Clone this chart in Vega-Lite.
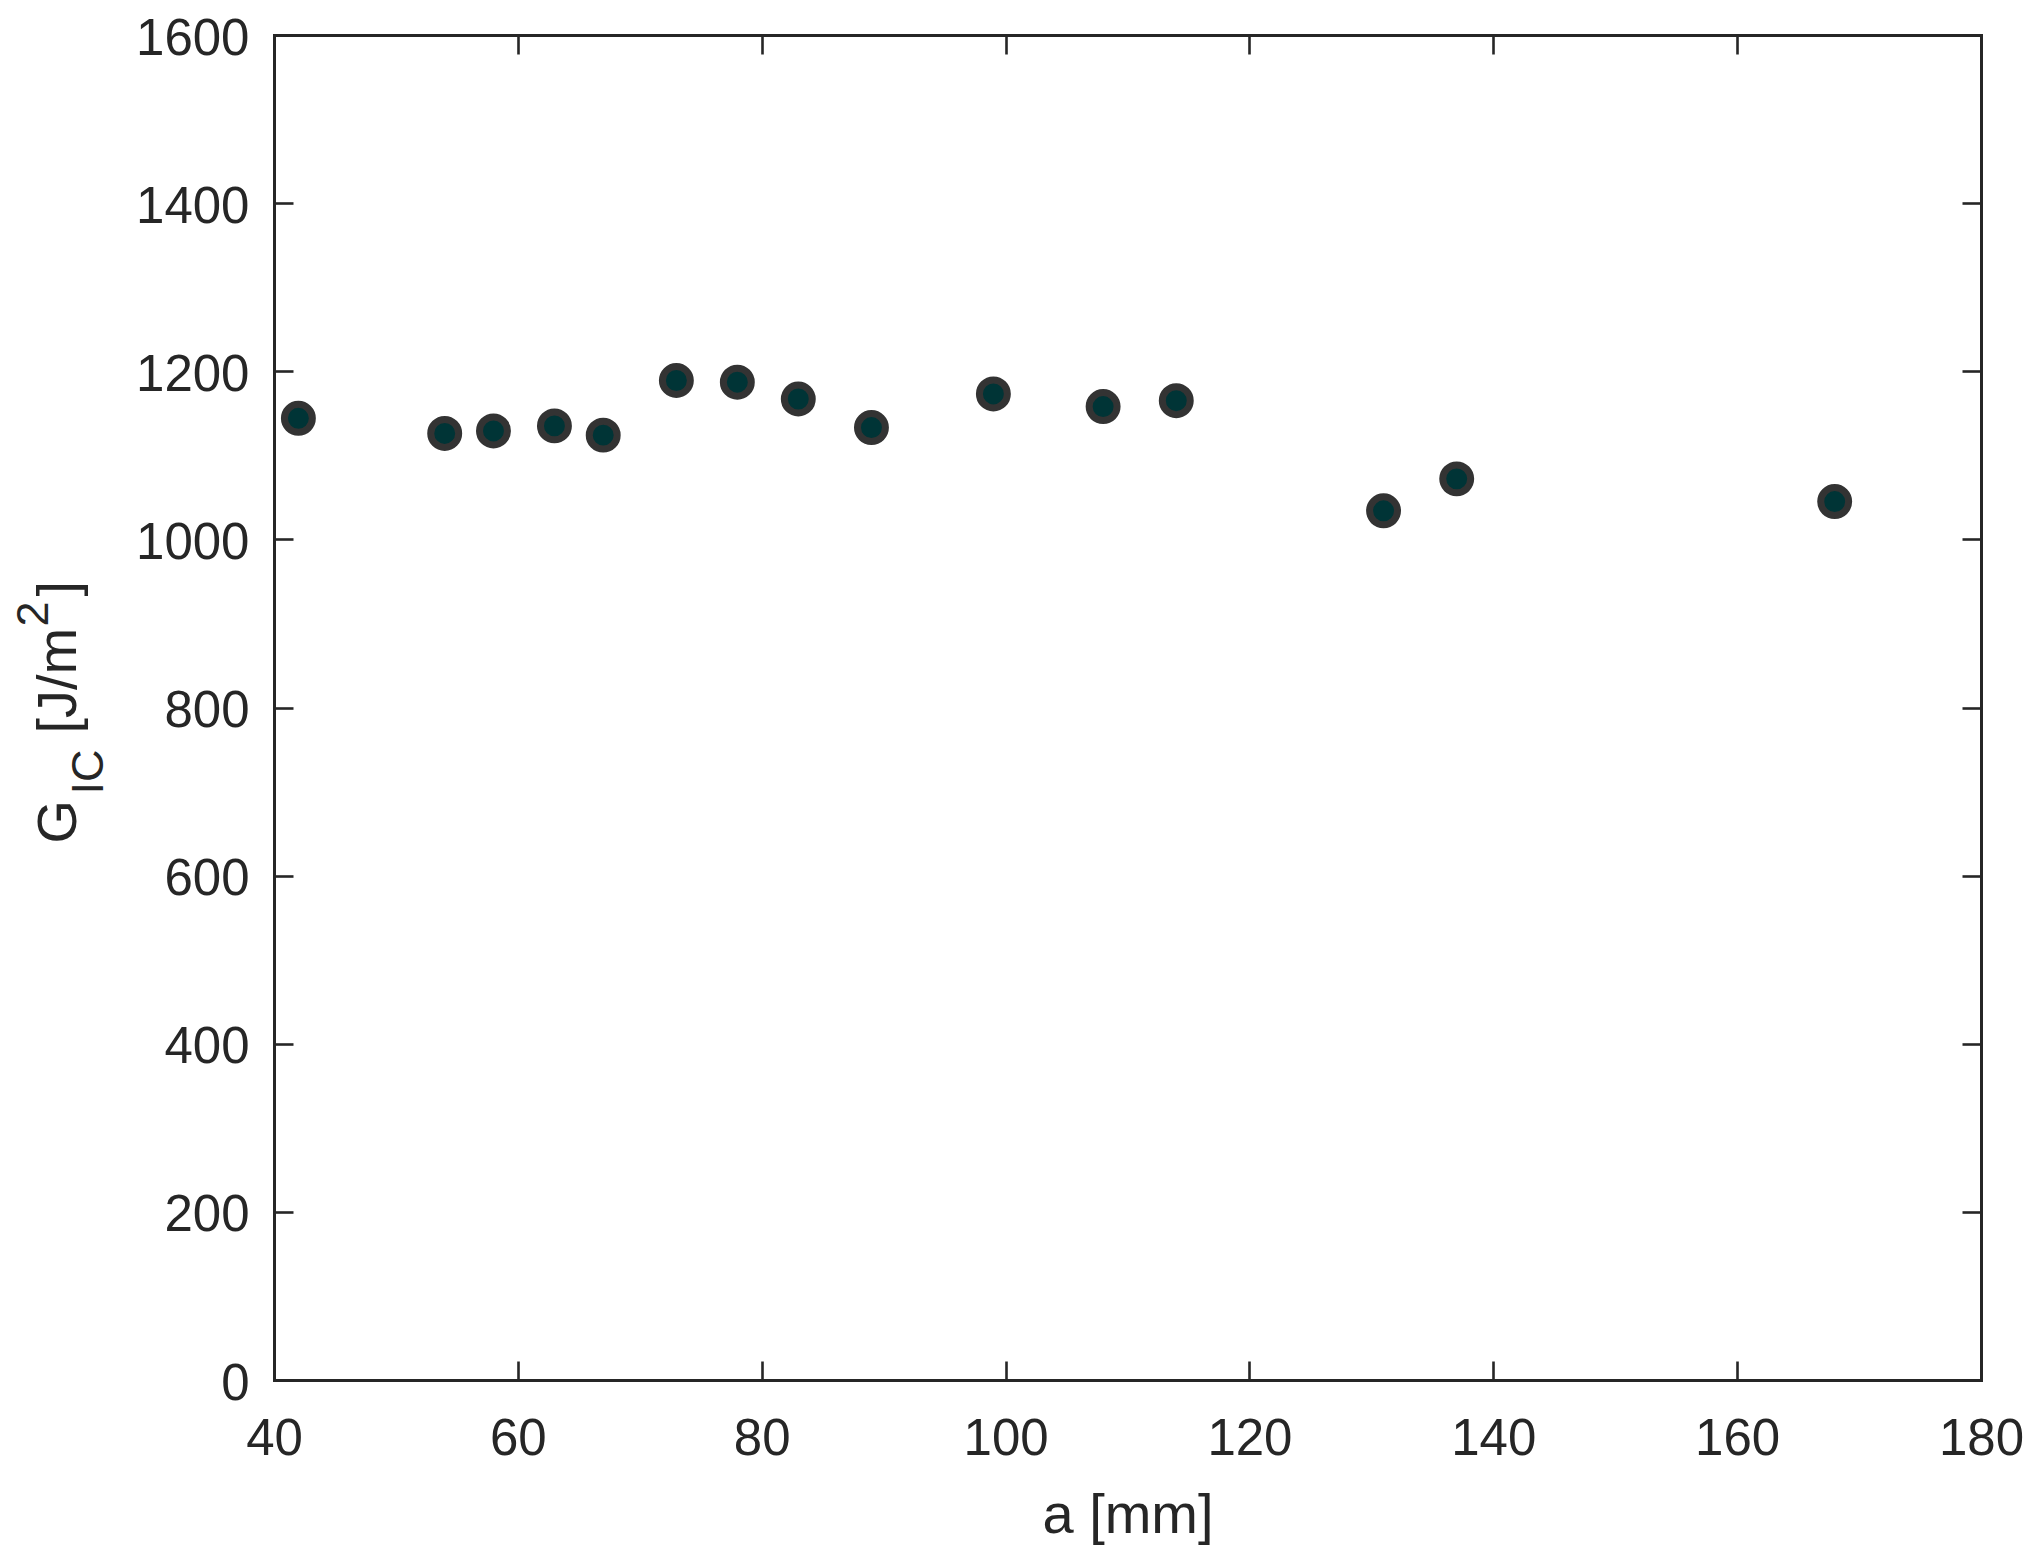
{
  "$schema": "https://vega.github.io/schema/vega-lite/v6.json",
  "width": 1707,
  "height": 1345,
  "autosize": {"type": "none"},
  "padding": {"left": 274, "top": 35, "right": 50, "bottom": 170},
  "background": "white",
  "config": {
    "view": {"stroke": null},
    "axis": {
      "grid": false,
      "labelFont": "Liberation Sans",
      "titleFont": "Liberation Sans",
      "labelFontSize": 51,
      "titleFontSize": 56,
      "titleFontWeight": "normal",
      "labelColor": "#262626",
      "titleColor": "#262626",
      "domainColor": "#262626",
      "tickColor": "#262626",
      "domainWidth": 3,
      "tickWidth": 2.6,
      "tickSize": -19,
      "labelFlush": false,
      "labelOverlap": false,
      "domainCap": "square",
      "format": "d"
    }
  },
  "data": {
    "values": [
      {"a": 42, "G": 1144},
      {"a": 54, "G": 1126},
      {"a": 58, "G": 1129},
      {"a": 63, "G": 1135},
      {"a": 67, "G": 1124},
      {"a": 73, "G": 1189},
      {"a": 78, "G": 1187},
      {"a": 83, "G": 1167},
      {"a": 89, "G": 1133},
      {"a": 99, "G": 1173},
      {"a": 108, "G": 1158},
      {"a": 114, "G": 1165},
      {"a": 131, "G": 1034},
      {"a": 137, "G": 1072},
      {"a": 168, "G": 1045}
    ]
  },
  "resolve": {"axis": {"x": "independent", "y": "independent"}},
  "layer": [
    {
      "mark": {"type": "point", "shape": "circle", "filled": true, "fill": "#003436", "stroke": "#333333", "strokeWidth": 7, "size": 780, "opacity": 1, "fillOpacity": 1, "strokeOpacity": 1},
      "encoding": {
        "x": {"field": "a", "type": "quantitative", "scale": {"domain": [40, 180], "nice": false, "zero": false},
              "axis": {"orient": "bottom", "values": [40, 60, 80, 100, 120, 140, 160, 180], "format": "d", "labelPadding": 53, "title": "a [mm]", "titleY": 152, "titleBaseline": "alphabetic"}},
        "y": {"field": "G", "type": "quantitative", "scale": {"domain": [0, 1600], "nice": false, "zero": true},
              "axis": {"orient": "left", "values": [0, 200, 400, 600, 800, 1000, 1200, 1400, 1600], "format": "d", "labelPadding": 44, "labelOffset": 4,
                       "title": "G", "titleAngle": -90, "titleAlign": "left", "titleBaseline": "alphabetic", "titleX": -199, "titleY": 808}}
      }
    },
    {
      "mark": {"type": "point", "opacity": 0},
      "encoding": {
        "x": {"field": "a", "type": "quantitative", "scale": {"domain": [40, 180], "nice": false, "zero": false},
              "axis": {"orient": "top", "values": [40, 60, 80, 100, 120, 140, 160, 180], "labels": false, "title": null}},
        "y": {"field": "G", "type": "quantitative", "scale": {"domain": [0, 1600], "nice": false, "zero": true},
              "axis": {"orient": "right", "values": [0, 200, 400, 600, 800, 1000, 1200, 1400, 1600], "labels": false, "title": null}}
      }
    },
    {
      "mark": {"type": "point", "opacity": 0},
      "encoding": {
        "x": {"field": "a", "type": "quantitative", "scale": {"domain": [40, 180], "nice": false, "zero": false}, "axis": null},
        "y": {"field": "G", "type": "quantitative", "scale": {"domain": [0, 1600], "nice": false, "zero": true},
              "axis": {"orient": "left", "domain": false, "ticks": false, "labels": false, "title": "IC", "titleFontSize": 45,
                       "titleAngle": -90, "titleAlign": "left", "titleBaseline": "alphabetic", "titleX": -172, "titleY": 759}}
      }
    },
    {
      "mark": {"type": "point", "opacity": 0},
      "encoding": {
        "x": {"field": "a", "type": "quantitative", "scale": {"domain": [40, 180], "nice": false, "zero": false}, "axis": null},
        "y": {"field": "G", "type": "quantitative", "scale": {"domain": [0, 1600], "nice": false, "zero": true},
              "axis": {"orient": "left", "domain": false, "ticks": false, "labels": false, "title": "[J/m",
                       "titleAngle": -90, "titleAlign": "left", "titleBaseline": "alphabetic", "titleX": -199, "titleY": 698}}
      }
    },
    {
      "mark": {"type": "point", "opacity": 0},
      "encoding": {
        "x": {"field": "a", "type": "quantitative", "scale": {"domain": [40, 180], "nice": false, "zero": false}, "axis": null},
        "y": {"field": "G", "type": "quantitative", "scale": {"domain": [0, 1600], "nice": false, "zero": true},
              "axis": {"orient": "left", "domain": false, "ticks": false, "labels": false, "title": "2", "titleFontSize": 45,
                       "titleAngle": -90, "titleAlign": "left", "titleBaseline": "alphabetic", "titleX": -227, "titleY": 591}}
      }
    },
    {
      "mark": {"type": "point", "opacity": 0},
      "encoding": {
        "x": {"field": "a", "type": "quantitative", "scale": {"domain": [40, 180], "nice": false, "zero": false}, "axis": null},
        "y": {"field": "G", "type": "quantitative", "scale": {"domain": [0, 1600], "nice": false, "zero": true},
              "axis": {"orient": "left", "domain": false, "ticks": false, "labels": false, "title": "]",
                       "titleAngle": -90, "titleAlign": "left", "titleBaseline": "alphabetic", "titleX": -199, "titleY": 561}}
      }
    }
  ]
}
